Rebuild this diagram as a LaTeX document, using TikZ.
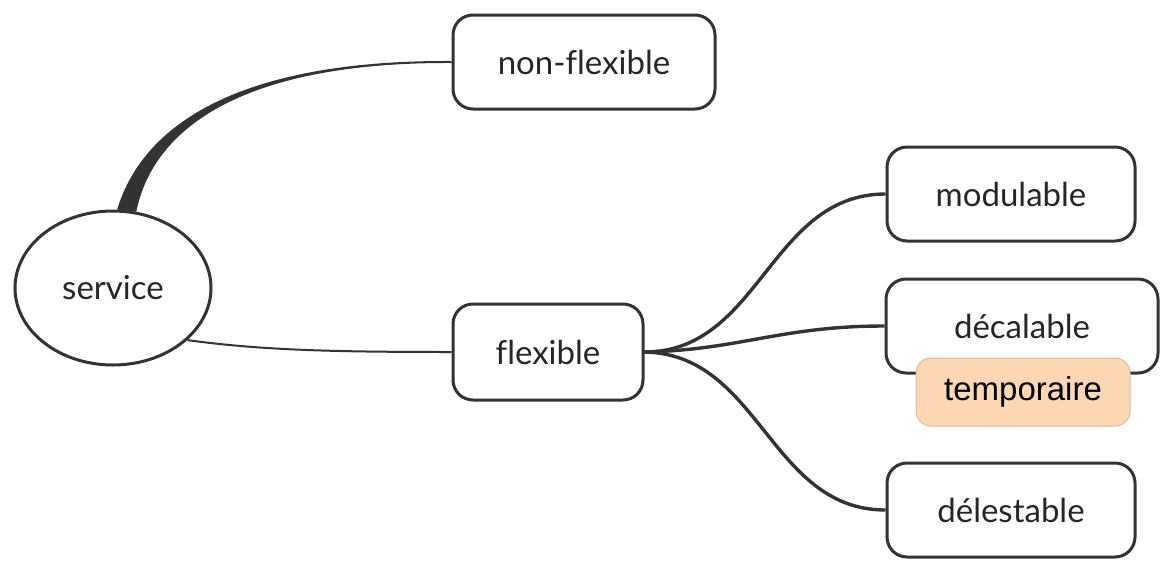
\documentclass[tikz,border=0pt]{standalone}
\usepackage{fontspec}
\setmainfont{Lato}[Ligatures=NoCommon]
\newfontfamily\tagfont{Liberation Sans}
\usepackage{tikz}
\usetikzlibrary{shapes}

\definecolor{linegray}{HTML}{333333}
\definecolor{tagfill}{HTML}{FDD6B4}
\definecolor{tagline}{HTML}{E2BA94}

\begin{document}
\begin{tikzpicture}[x=0.5pt, y=-0.5pt,
			mapnode/.style = {shape=rectangle, rounded corners=10pt,
				draw=linegray, line width=1.5pt, fill=white,
				text=black!85, font=\fontsize{16.5}{19}\selectfont,
				inner sep=0pt},
			rootnode/.style = {shape=ellipse, draw=linegray,
				line width=1.5pt, fill=white, text=black!85,
				font=\fontsize{16.5}{19}\selectfont, inner sep=0pt,
				minimum width=98pt, minimum height=77pt},
			tagnode/.style = {shape=rectangle, rounded corners=7.5pt,
				draw=tagline, line width=0.5pt, fill=tagfill,
				font=\tagfont\fontsize{16.5}{19}\selectfont,
				minimum width=107pt, minimum height=34pt, inner sep=0pt},
			branch/.style = {draw=linegray, line width=1.7pt}]
			\useasboundingbox (0,0) rectangle (1162,563);
			\node[rootnode] (service) at (113,288) {service};
			\node[mapnode, minimum width=131pt, minimum height=47pt] (nonflex) at (584,62) {non-flexible};
			\node[mapnode, minimum width=95pt, minimum height=48pt] (flex) at (548,352) {flexible};
			\node[mapnode, minimum width=124pt, minimum height=47pt] (modul) at (1011,194) {modulable};
			\node[mapnode, minimum width=136pt, minimum height=47pt] (decal) at (1022,326) {décalable};
			\node[tagnode] (temp) at (1023,392) {temporaire};
			\node[mapnode, minimum width=124pt, minimum height=47pt] (delest) at (1011,510) {délestable};
			\fill[linegray] (service.87) .. controls (145,118) and (250,60) .. ([yshift=0.5pt]nonflex.west)
				-- ([yshift=-0.5pt]nonflex.west) .. controls (250,62) and (154,124) .. (service.73) -- cycle;
			\draw[linegray, line width=1pt] (service.-35) .. controls (260,350) and (330,352) .. (flex.west);
			\draw[branch] (flex.east) .. controls (760,352) and (770,194) .. (modul.west);
			\draw[branch] (flex.east) .. controls (740,350) and (780,326) .. (decal.west);
			\draw[branch] (flex.east) .. controls (760,354) and (770,510) .. (delest.west);
\end{tikzpicture}
\end{document}
